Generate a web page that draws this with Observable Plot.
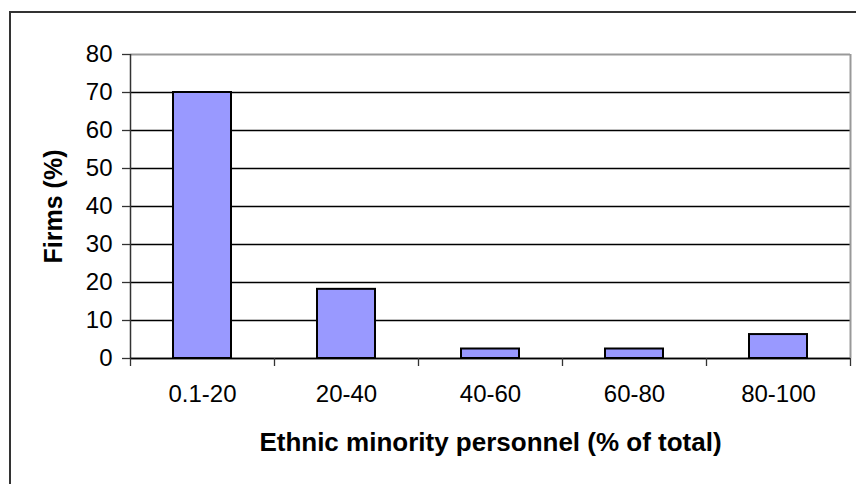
<!DOCTYPE html>
<html>
<head>
<meta charset="utf-8">
<script src="https://cdn.jsdelivr.net/npm/d3@7"></script>
<script src="https://cdn.jsdelivr.net/npm/@observablehq/plot@0.6"></script>
<style>
  html, body { margin: 0; padding: 0; background: #fff; overflow: hidden; }
  #wrap { position: relative; width: 856px; height: 484px; overflow: hidden; }
  #border { position: absolute; left: 9px; top: 11px; width: 1000px; height: 1000px;
            border-left: 2px solid #333; border-top: 2px solid #333; pointer-events: none; }
</style>
</head>
<body>
<div id="wrap"><div id="border"></div></div>
<script>
const categories = ["0.1-20", "20-40", "40-60", "60-80", "80-100"];
const lowerBounds = [0, 20, 40, 60, 80];
const upperBounds = [20, 40, 60, 80, 100];
const firmsPct = [70, 18.2, 2.5, 2.5, 6.3];
const yTicks = [0, 10, 20, 30, 40, 50, 60, 70, 80];
const xBoundaryTicks = [0, 20, 40, 60, 80, 100];
const xTitle = "Ethnic minority personnel (% of total)";
const yTitle = "Firms (%)";

const data = categories.map((c, i) => ({cat: c, lo: lowerBounds[i], hi: upperBounds[i], v: firmsPct[i]}));
const midpoints = data.map(d => (d.lo + d.hi) / 2);

const chart = Plot.plot({
  width: 856,
  height: 484,
  marginLeft: 130,
  marginRight: 6,
  marginTop: 54,
  marginBottom: 126,
  style: {fontFamily: "'Liberation Sans', Arial, sans-serif", fontSize: "24px", color: "#000", background: "transparent"},
  x: {type: "linear", domain: [0, 100]},
  y: {domain: [0, 80]},
  marks: [
    Plot.ruleY(yTicks.filter(t => t < 80), {stroke: "#000", strokeWidth: 1.3}),
    Plot.ruleY([80], {stroke: "#999", strokeWidth: 2}),
    Plot.ruleX([100], {stroke: "#999", strokeWidth: 2}),
    Plot.rectY(data, {x1: "lo", x2: "hi", y: "v", insetLeft: 43, insetRight: 43, fill: "#9999FF", stroke: "#000", strokeWidth: 2}),
    Plot.ruleX([0], {stroke: "#333", strokeWidth: 1.5}),
    Plot.ruleY([0], {stroke: "#000", strokeWidth: 1.5}),
    Plot.axisY({ticks: yTicks, tickSize: 8, tickPadding: 10, label: null, stroke: "#333", strokeWidth: 1.3, fontSize: 24, fill: "#000"}),
    Plot.axisX({ticks: xBoundaryTicks, tickSize: 8, tickFormat: () => "", label: null, stroke: "#333", strokeWidth: 1.3}),
    Plot.axisX({ticks: midpoints, tickSize: 0, tickPadding: 26, tickFormat: d => categories[midpoints.indexOf(d)], label: null, fontSize: 24, fill: "#000"}),
    Plot.text([xTitle], {frameAnchor: "bottom", textAnchor: "middle", lineAnchor: "top", dy: 74, fontWeight: "bold", fontSize: 26, fill: "#000"}),
    Plot.text([yTitle], {frameAnchor: "left", textAnchor: "middle", lineAnchor: "middle", rotate: -90, dx: -77, fontWeight: "bold", fontSize: 25, fill: "#000"})
  ]
});
document.getElementById("wrap").insertBefore(chart, document.getElementById("border"));
</script>
</body>
</html>
